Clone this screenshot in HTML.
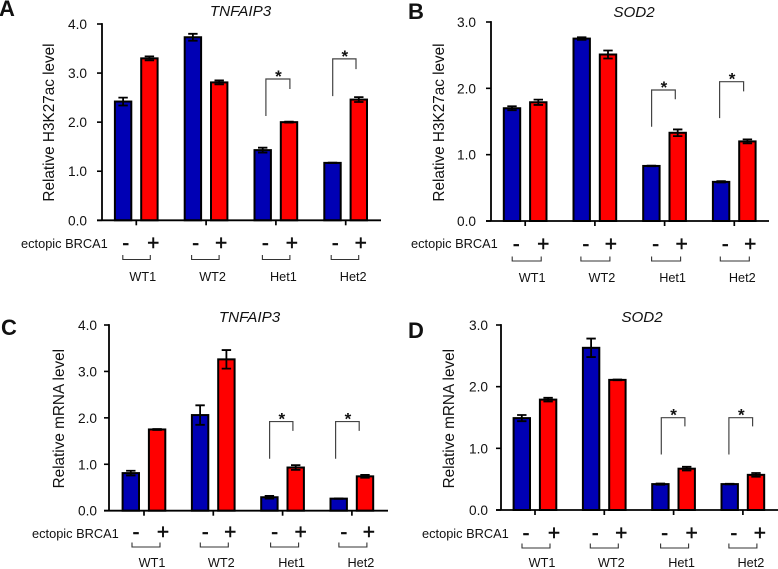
<!DOCTYPE html>
<html lang="en">
<head>
<meta charset="utf-8">
<title>H3K27ac and mRNA levels</title>
<style>
html,body{margin:0;padding:0;background:#fff;}
svg{display:block;filter:blur(0.3px);}
text{font-family:"Liberation Sans",Arial,sans-serif;fill:#111;}
</style>
</head>
<body>
<svg id="figure" width="778" height="569" viewBox="0 0 778 569" xmlns="http://www.w3.org/2000/svg"></svg>
<script>
// Shared categories and labels
const groups = ['WT1', 'WT2', 'Het1', 'Het2'];
const treatmentLabels = ['-', '+'];
const ticksFour = ['0.0', '1.0', '2.0', '3.0', '4.0'];
const ticksThree = ['0.0', '1.0', '2.0', '3.0'];

// Panel A values
const aMinus = [2.42, 3.73, 1.43, 1.17];
const aPlus = [3.30, 2.81, 2.00, 2.46];
const aMinusErr = [0.08, 0.07, 0.05, 0.005];
const aPlusErr = [0.04, 0.04, 0.01, 0.05];
const aSigTop = [2.88, 3.29];
const aSigLeftEnd = [2.125, 2.53];
const aSigRightEnd = [2.675, 3.08];

// Panel B values
const bMinus = [1.70, 2.75, 0.83, 0.59];
const bPlus = [1.79, 2.51, 1.33, 1.20];
const bMinusErr = [0.03, 0.02, 0.005, 0.01];
const bPlusErr = [0.04, 0.06, 0.05, 0.03];
const bSigTop = [1.975, 2.10];
const bSigLeftEnd = [1.42, 1.55];
const bSigRightEnd = [1.835, 1.955];

// Panel C values
const cMinus = [0.81, 2.06, 0.29, 0.26];
const cPlus = [1.75, 3.26, 0.93, 0.74];
const cMinusErr = [0.05, 0.21, 0.03, 0.005];
const cPlusErr = [0.01, 0.20, 0.05, 0.03];
const cSigTop = [1.92, 1.92];
const cSigLeftEnd = [1.12, 1.12];
const cSigRightEnd = [1.72, 1.72];

// Panel D values
const dMinus = [1.49, 2.63, 0.42, 0.42];
const dPlus = [1.79, 2.11, 0.67, 0.57];
const dMinusErr = [0.05, 0.15, 0.01, 0.005];
const dPlusErr = [0.03, 0.005, 0.03, 0.03];
const dSigTop = [1.497, 1.497];
const dSigLeftEnd = [0.90, 0.90];
const dSigRightEnd = [1.357, 1.357];

const svgNS = 'http://www.w3.org/2000/svg';
const figure = document.getElementById('figure');

function make(tag, attrs, parent, content) {
  const node = document.createElementNS(svgNS, tag);
  for (const key in attrs) node.setAttribute(key, attrs[key]);
  if (content !== undefined) node.textContent = content;
  parent.appendChild(node);
  return node;
}

function drawPanel(p) {
  const g = make('g', {}, figure);
  
  

  const yScale = v => p.y0 - (v / p.yMax) * (p.y0 - p.yTop);
  const xScale = i => p.x0 + i * p.step;

  const letter = make('text', {x: p.letterX, y: p.letterY, 'font-size': 22, 'font-weight': 'bold', fill: '#000'}, g, p.id.toUpperCase());
  
  

  const title = make('text', {x: p.titleX, y: p.titleY, 'font-size': 15.2, 'font-style': 'italic', 'text-anchor': 'middle', fill: '#000'}, g, p.title);
  
  

  const yLab = make('text', {x: 0, y: 0, 'font-size': 15.3, 'text-anchor': 'middle', transform: 'translate(' + p.yLabelX + ',' + p.yLabelY + ') rotate(-90)', fill: '#000'}, g, p.yLabel);
  
  

  // bars
  p.groups.forEach((name, i) => {
    const cx = xScale(i);
    [[p.minus, p.minusErr, -13.2, '#0000b4', 'minus'], [p.plus, p.plusErr, 13.1, '#ff0000', 'plus']].forEach(s => {
      const val = s[0][i];
      const err = s[1][i];
      const bx = cx + s[2];
      const top = yScale(val);
      const bar = make('rect', {x: bx - 8.2, y: top, width: 16.4, height: p.y0 - top, fill: s[3], stroke: '#000', 'stroke-width': 2}, g);
      
      

      const ep = make('path', {
        d: 'M' + bx + ' ' + yScale(val + err) + 'V' + yScale(val - err) +
           'M' + (bx - 4.7) + ' ' + yScale(val + err) + 'H' + (bx + 4.7) +
           'M' + (bx - 4.7) + ' ' + yScale(val - err) + 'H' + (bx + 4.7),
        stroke: '#000', 'stroke-width': 1.8, fill: 'none'
      }, g);
      
      
    });
  });

  // axes
  const yAxis = make('line', {x1: p.axisX, x2: p.axisX, y1: p.yTop - 0.9, y2: p.y0, stroke: '#000', 'stroke-width': 1.8}, g);
  
  

  const xAxis = make('line', {x1: p.axisX - 5, x2: p.axisEnd, y1: p.y0, y2: p.y0, stroke: '#000', 'stroke-width': 1.8}, g);
  
  

  p.yTicks.forEach(label => {
    const y = yScale(parseFloat(label));
    const tick = make('line', {x1: p.axisX - 5, x2: p.axisX, y1: y, y2: y, stroke: '#000', 'stroke-width': 1.6}, g);
    
    
    const t = make('text', {x: p.axisX - p.tickGap, y: y + 5, 'font-size': 13.7, 'text-anchor': 'end', fill: '#000'}, g, label);
    
    
  });

  // treatment row
  const ect = make('text', {x: p.ectX, y: p.ectY, 'font-size': 12.8, fill: '#000'}, g, 'ectopic BRCA1');
  
  

  const jitter = [1, -1, 0, -1];
  p.groups.forEach((name, i) => {
    const cx = xScale(i);
    const tick = make('line', {x1: cx, x2: cx, y1: p.y0, y2: p.y0 + 5, stroke: '#000', 'stroke-width': 1.7}, g);
    
    

    const minus = make('text', {x: cx + p.minusDx, y: p.signY, 'font-size': 21, 'text-anchor': 'middle', fill: '#000', stroke: '#000', 'stroke-width': 0.4}, g, treatmentLabels[0]);
    
    

    const plus = make('text', {x: cx + p.plusDx + jitter[i], y: p.signY, 'font-size': 21, 'text-anchor': 'middle', fill: '#000', stroke: '#000', 'stroke-width': 0.4}, g, treatmentLabels[1]);
    
    

    const bl = cx + p.brLeft + Math.min(jitter[i], 0);
    const br = cx + p.brRight + Math.min(jitter[i], 0);
    const brace = make('path', {d: 'M' + bl + ' ' + p.brY + 'v4.5H' + br + 'v-4.5', stroke: '#333', 'stroke-width': 1.1, fill: 'none'}, g);
    
    

    const lab = make('text', {x: cx + p.labelDx + (i > 1 ? 1 : 0), y: p.labelY, 'font-size': 12.7, 'text-anchor': 'middle', fill: '#000'}, g, name);
    
    
  });

  // significance brackets over Het1 and Het2
  p.sigTop.forEach((top, k) => {
    const cx = xScale(k + 2);
    const xl = cx + p.sigDx[k][0];
    const xr = cx + p.sigDx[k][1];
    const yTop = yScale(top);
    const sig = make('path', {
      d: 'M' + xl + ' ' + yScale(p.sigLeft[k]) + 'V' + yTop + 'H' + xr + 'V' + yScale(p.sigRight[k]),
      stroke: '#444', 'stroke-width': 1.2, fill: 'none'
    }, g);
    
    

    const star = make('text', {x: (xl + xr) / 2 + 0.5, y: yTop + 3, 'font-size': 17, 'font-weight': 'bold', 'text-anchor': 'middle', fill: '#000'}, g, '*');
    
    
  });
}

drawPanel({
  id: 'a', title: 'TNFAIP3', yLabel: 'Relative H3K27ac level', groups: groups, yTicks: ticksFour, yMax: 4,
  minus: aMinus, plus: aPlus, minusErr: aMinusErr, plusErr: aPlusErr,
  sigTop: aSigTop, sigLeft: aSigLeftEnd, sigRight: aSigRightEnd, sigDx: [[-10, 14], [-13, 10.3]],
  y0: 220.3, yTop: 24, axisX: 102, axisEnd: 381, x0: 136.3, step: 69.8, tickGap: 15,
  letterX: -1, letterY: 16, titleX: 240.5, titleY: 16, yLabelX: 54, yLabelY: 122.5,
  ectX: 21, ectY: 248, signY: 250, minusDx: -10.5, plusDx: 16, brLeft: -13.5, brRight: 14, brY: 255,
  labelDx: 6.5, labelY: 281
});
drawPanel({
  id: 'b', title: 'SOD2', yLabel: 'Relative H3K27ac level', groups: groups, yTicks: ticksThree, yMax: 3,
  minus: bMinus, plus: bPlus, minusErr: bMinusErr, plusErr: bPlusErr,
  sigTop: bSigTop, sigLeft: bSigLeftEnd, sigRight: bSigRightEnd, sigDx: [[-13, 10.7], [-14.7, 9.3]],
  y0: 221, yTop: 22, axisX: 491, axisEnd: 769, x0: 525.2, step: 69.7, tickGap: 15,
  letterX: 408, letterY: 19, titleX: 634, titleY: 17, yLabelX: 444, yLabelY: 122.5,
  ectX: 411, ectY: 248, signY: 251, minusDx: -9, plusDx: 17, brLeft: -13, brRight: 16, brY: 256.5,
  labelDx: 7, labelY: 282
});
drawPanel({
  id: 'c', title: 'TNFAIP3', yLabel: 'Relative mRNA level', groups: groups, yTicks: ticksFour, yMax: 4,
  minus: cMinus, plus: cPlus, minusErr: cMinusErr, plusErr: cPlusErr,
  sigTop: cSigTop, sigLeft: cSigLeftEnd, sigRight: cSigRightEnd, sigDx: [[-13, 10.3], [-16.3, 7.3]],
  y0: 510.7, yTop: 325, axisX: 109, axisEnd: 388, x0: 144, step: 69.3, tickGap: 12,
  letterX: 1, letterY: 335, titleX: 249.5, titleY: 322, yLabelX: 64, yLabelY: 418.7,
  ectX: 32, ectY: 538, signY: 539, minusDx: -8, plusDx: 18, brLeft: -12, brRight: 16, brY: 542.5,
  labelDx: 8, labelY: 567
});
drawPanel({
  id: 'd', title: 'SOD2', yLabel: 'Relative mRNA level', groups: groups, yTicks: ticksThree, yMax: 3,
  minus: dMinus, plus: dPlus, minusErr: dMinusErr, plusErr: dPlusErr,
  sigTop: dSigTop, sigLeft: dSigLeftEnd, sigRight: dSigRightEnd, sigDx: [[-12.3, 11.3], [-14, 9.7]],
  y0: 510, yTop: 325, axisX: 501, axisEnd: 778, x0: 535, step: 69.3, tickGap: 13,
  letterX: 408, letterY: 338, titleX: 642, titleY: 322, yLabelX: 454, yLabelY: 418.7,
  ectX: 422, ectY: 538, signY: 540, minusDx: -9, plusDx: 18, brLeft: -13, brRight: 15, brY: 543.5,
  labelDx: 7, labelY: 567
});
</script>
</body>
</html>
